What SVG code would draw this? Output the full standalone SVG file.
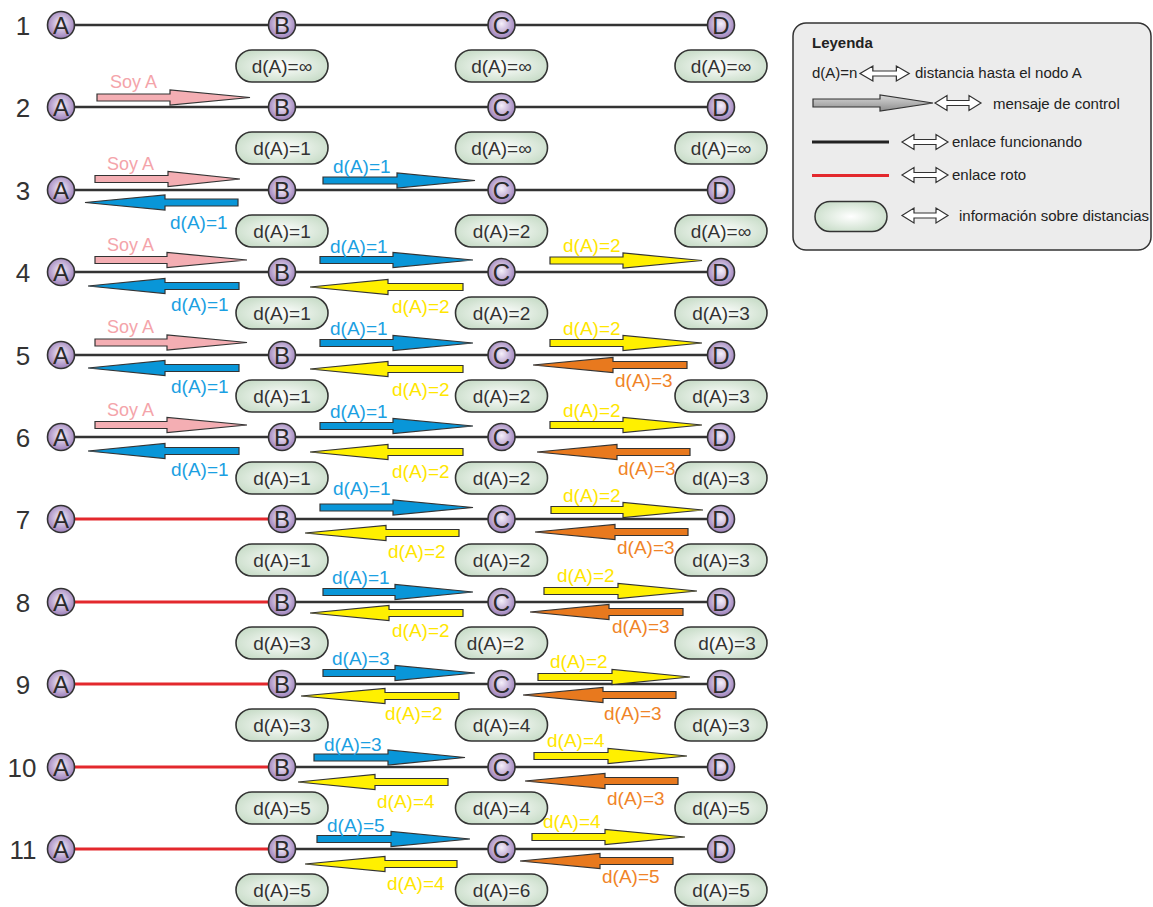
<svg xmlns="http://www.w3.org/2000/svg" xmlns:xlink="http://www.w3.org/1999/xlink" width="1153" height="907" viewBox="0 0 1153 907">
  <defs>
    <radialGradient id="gNode" cx="50%" cy="45%" r="55%">
      <stop offset="0" stop-color="#f6f0fa"/>
      <stop offset="1" stop-color="#9c7fba"/>
    </radialGradient>
    <radialGradient id="gDist" cx="50%" cy="50%" r="60%">
      <stop offset="0" stop-color="#ffffff"/>
      <stop offset="1" stop-color="#c6dbc6"/>
    </radialGradient>
    <linearGradient id="gGray" x1="0" y1="0" x2="0" y2="1">
      <stop offset="0" stop-color="#d8d8d8"/>
      <stop offset="1" stop-color="#8e8e8e"/>
    </linearGradient>
    <!-- hollow two-headed arrow used in the legend -->
    <path id="dbl" d="M0,0 L12,-7.5 V-2.5 H34 V-7.5 L46,0 L34,7.5 V2.5 H12 V7.5 Z"/>
    <style>
      text { font-family: "Liberation Sans", Arial, sans-serif; }
      .num { font-size: 26px; fill: #333; text-anchor: middle; }
      .node circle { fill: url(#gNode); stroke: #333; stroke-width: 1.6; }
      .node text { font-size: 24px; fill: #2a2a2a; text-anchor: middle; }
      .link { stroke: #333; stroke-width: 2.6; }
      .broken { stroke: #e3282d; stroke-width: 3; }
      .dist rect { fill: url(#gDist); stroke: #333; stroke-width: 1.6; }
      .dist text { font-size: 19px; fill: #333; text-anchor: middle; }
      .msg path { stroke: #333; stroke-width: 1.2; stroke-linejoin: miter; }
      .pink { fill: #f4aeb3; }
      .blue { fill: #0996d8; }
      .yel { fill: #fff000; }
      .ora { fill: #e8791e; }
      .lbl { font-size: 19px; }
      .tp { fill: #f4a4aa; }
      .tb { fill: #1ba0e2; }
      .ty { fill: #ffe600; }
      .to { fill: #f08428; }
      .leg text { font-size: 15px; fill: #222; }
      .leg use { fill: #fff; stroke: #333; stroke-width: 1.2; }
    </style>
  </defs>

  <rect width="1153" height="907" fill="#fff"/>

  <!-- step numbers -->
  <g id="steps">
    <text class="num" x="23" y="35">1</text>
    <text class="num" x="23" y="117">2</text>
    <text class="num" x="23" y="200">3</text>
    <text class="num" x="23" y="282">4</text>
    <text class="num" x="23" y="365">5</text>
    <text class="num" x="23" y="447">6</text>
    <text class="num" x="23" y="529">7</text>
    <text class="num" x="23" y="612">8</text>
    <text class="num" x="23" y="694">9</text>
    <text class="num" x="22" y="777">10</text>
    <text class="num" x="23" y="859">11</text>
  </g>

  <!-- links between nodes -->
  <g id="connectors">
    <line class="link" x1="61" y1="25" x2="721" y2="25"/>
    <line class="link" x1="61" y1="107" x2="721" y2="107"/>
    <line class="link" x1="61" y1="190" x2="721" y2="190"/>
    <line class="link" x1="61" y1="272" x2="721" y2="272"/>
    <line class="link" x1="61" y1="355" x2="721" y2="355"/>
    <line class="link" x1="61" y1="437" x2="721" y2="437"/>
    <line class="broken" x1="61" y1="519" x2="282" y2="519"/>
    <line class="link" x1="282" y1="519" x2="721" y2="519"/>
    <line class="broken" x1="61" y1="602" x2="282" y2="602"/>
    <line class="link" x1="282" y1="602" x2="721" y2="602"/>
    <line class="broken" x1="61" y1="684" x2="282" y2="684"/>
    <line class="link" x1="282" y1="684" x2="721" y2="684"/>
    <line class="broken" x1="61" y1="767" x2="282" y2="767"/>
    <line class="link" x1="282" y1="767" x2="721" y2="767"/>
    <line class="broken" x1="61" y1="849" x2="282" y2="849"/>
    <line class="link" x1="282" y1="849" x2="721" y2="849"/>
  </g>

  <!-- nodes -->
  <g id="n1A" class="node"><circle cx="61" cy="25" r="13.5"/><text x="61" y="33.5">A</text></g>
  <g id="n1B" class="node"><circle cx="282" cy="25" r="13.5"/><text x="282" y="33.5">B</text></g>
  <g id="n1C" class="node"><circle cx="501.5" cy="25" r="13.5"/><text x="501.5" y="33.5">C</text></g>
  <g id="n1D" class="node"><circle cx="721" cy="25" r="13.5"/><text x="721" y="33.5">D</text></g>

  <g id="n2A" class="node"><circle cx="61" cy="107" r="13.5"/><text x="61" y="115.5">A</text></g>
  <g id="n2B" class="node"><circle cx="282" cy="107" r="13.5"/><text x="282" y="115.5">B</text></g>
  <g id="n2C" class="node"><circle cx="501.5" cy="107" r="13.5"/><text x="501.5" y="115.5">C</text></g>
  <g id="n2D" class="node"><circle cx="721" cy="107" r="13.5"/><text x="721" y="115.5">D</text></g>

  <g id="n3A" class="node"><circle cx="61" cy="190" r="13.5"/><text x="61" y="198.5">A</text></g>
  <g id="n3B" class="node"><circle cx="282" cy="190" r="13.5"/><text x="282" y="198.5">B</text></g>
  <g id="n3C" class="node"><circle cx="501.5" cy="190" r="13.5"/><text x="501.5" y="198.5">C</text></g>
  <g id="n3D" class="node"><circle cx="721" cy="190" r="13.5"/><text x="721" y="198.5">D</text></g>

  <g id="n4A" class="node"><circle cx="61" cy="272" r="13.5"/><text x="61" y="280.5">A</text></g>
  <g id="n4B" class="node"><circle cx="282" cy="272" r="13.5"/><text x="282" y="280.5">B</text></g>
  <g id="n4C" class="node"><circle cx="501.5" cy="272" r="13.5"/><text x="501.5" y="280.5">C</text></g>
  <g id="n4D" class="node"><circle cx="721" cy="272" r="13.5"/><text x="721" y="280.5">D</text></g>

  <g id="n5A" class="node"><circle cx="61" cy="355" r="13.5"/><text x="61" y="363.5">A</text></g>
  <g id="n5B" class="node"><circle cx="282" cy="355" r="13.5"/><text x="282" y="363.5">B</text></g>
  <g id="n5C" class="node"><circle cx="501.5" cy="355" r="13.5"/><text x="501.5" y="363.5">C</text></g>
  <g id="n5D" class="node"><circle cx="721" cy="355" r="13.5"/><text x="721" y="363.5">D</text></g>

  <g id="n6A" class="node"><circle cx="61" cy="437" r="13.5"/><text x="61" y="445.5">A</text></g>
  <g id="n6B" class="node"><circle cx="282" cy="437" r="13.5"/><text x="282" y="445.5">B</text></g>
  <g id="n6C" class="node"><circle cx="501.5" cy="437" r="13.5"/><text x="501.5" y="445.5">C</text></g>
  <g id="n6D" class="node"><circle cx="721" cy="437" r="13.5"/><text x="721" y="445.5">D</text></g>

  <g id="n7A" class="node"><circle cx="61" cy="519" r="13.5"/><text x="61" y="527.5">A</text></g>
  <g id="n7B" class="node"><circle cx="282" cy="519" r="13.5"/><text x="282" y="527.5">B</text></g>
  <g id="n7C" class="node"><circle cx="501.5" cy="519" r="13.5"/><text x="501.5" y="527.5">C</text></g>
  <g id="n7D" class="node"><circle cx="721" cy="519" r="13.5"/><text x="721" y="527.5">D</text></g>

  <g id="n8A" class="node"><circle cx="61" cy="602" r="13.5"/><text x="61" y="610.5">A</text></g>
  <g id="n8B" class="node"><circle cx="282" cy="602" r="13.5"/><text x="282" y="610.5">B</text></g>
  <g id="n8C" class="node"><circle cx="501.5" cy="602" r="13.5"/><text x="501.5" y="610.5">C</text></g>
  <g id="n8D" class="node"><circle cx="721" cy="602" r="13.5"/><text x="721" y="610.5">D</text></g>

  <g id="n9A" class="node"><circle cx="61" cy="684" r="13.5"/><text x="61" y="692.5">A</text></g>
  <g id="n9B" class="node"><circle cx="282" cy="684" r="13.5"/><text x="282" y="692.5">B</text></g>
  <g id="n9C" class="node"><circle cx="501.5" cy="684" r="13.5"/><text x="501.5" y="692.5">C</text></g>
  <g id="n9D" class="node"><circle cx="721" cy="684" r="13.5"/><text x="721" y="692.5">D</text></g>

  <g id="n10A" class="node"><circle cx="61" cy="767" r="13.5"/><text x="61" y="775.5">A</text></g>
  <g id="n10B" class="node"><circle cx="282" cy="767" r="13.5"/><text x="282" y="775.5">B</text></g>
  <g id="n10C" class="node"><circle cx="501.5" cy="767" r="13.5"/><text x="501.5" y="775.5">C</text></g>
  <g id="n10D" class="node"><circle cx="721" cy="767" r="13.5"/><text x="721" y="775.5">D</text></g>

  <g id="n11A" class="node"><circle cx="61" cy="849" r="13.5"/><text x="61" y="857.5">A</text></g>
  <g id="n11B" class="node"><circle cx="282" cy="849" r="13.5"/><text x="282" y="857.5">B</text></g>
  <g id="n11C" class="node"><circle cx="501.5" cy="849" r="13.5"/><text x="501.5" y="857.5">C</text></g>
  <g id="n11D" class="node"><circle cx="721" cy="849" r="13.5"/><text x="721" y="857.5">D</text></g>

  <!-- distance tables kept by B, C and D -->
  <g id="dist" class="dist">
    <rect x="236" y="50" width="92" height="32" rx="16"/><text x="282" y="72.5">d(A)=∞</text>
    <rect x="455.5" y="50" width="92" height="32" rx="16"/><text x="501.5" y="72.5">d(A)=∞</text>
    <rect x="675" y="50" width="92" height="32" rx="16"/><text x="721" y="72.5">d(A)=∞</text>

    <rect x="236" y="132" width="92" height="32" rx="16"/><text x="282" y="154.5">d(A)=1</text>
    <rect x="455.5" y="132" width="92" height="32" rx="16"/><text x="501.5" y="154.5">d(A)=∞</text>
    <rect x="675" y="132" width="92" height="32" rx="16"/><text x="721" y="154.5">d(A)=∞</text>

    <rect x="236" y="215" width="92" height="32" rx="16"/><text x="282" y="237.5">d(A)=1</text>
    <rect x="455.5" y="215" width="92" height="32" rx="16"/><text x="501.5" y="237.5">d(A)=2</text>
    <rect x="675" y="215" width="92" height="32" rx="16"/><text x="721" y="237.5">d(A)=∞</text>

    <rect x="236" y="297" width="92" height="32" rx="16"/><text x="282" y="319.5">d(A)=1</text>
    <rect x="455.5" y="297" width="92" height="32" rx="16"/><text x="501.5" y="319.5">d(A)=2</text>
    <rect x="675" y="297" width="92" height="32" rx="16"/><text x="721" y="319.5">d(A)=3</text>

    <rect x="236" y="380" width="92" height="32" rx="16"/><text x="282" y="402.5">d(A)=1</text>
    <rect x="455.5" y="380" width="92" height="32" rx="16"/><text x="501.5" y="402.5">d(A)=2</text>
    <rect x="675" y="380" width="92" height="32" rx="16"/><text x="721" y="402.5">d(A)=3</text>

    <rect x="236" y="462" width="92" height="32" rx="16"/><text x="282" y="484.5">d(A)=1</text>
    <rect x="455.5" y="462" width="92" height="32" rx="16"/><text x="501.5" y="484.5">d(A)=2</text>
    <rect x="675" y="462" width="92" height="32" rx="16"/><text x="721" y="484.5">d(A)=3</text>

    <rect x="236" y="544" width="92" height="32" rx="16"/><text x="282" y="566.5">d(A)=1</text>
    <rect x="455.5" y="544" width="92" height="32" rx="16"/><text x="501.5" y="566.5">d(A)=2</text>
    <rect x="675" y="544" width="92" height="32" rx="16"/><text x="721" y="566.5">d(A)=3</text>

    <rect x="236" y="627" width="92" height="32" rx="16"/><text x="282" y="649.5">d(A)=3</text>
    <rect x="455.5" y="627" width="92" height="32" rx="16"/><text x="495.5" y="649.5">d(A)=2</text>
    <rect x="675" y="627" width="92" height="32" rx="16"/><text x="727" y="649.5">d(A)=3</text>

    <rect x="236" y="709" width="92" height="32" rx="16"/><text x="282" y="731.5">d(A)=3</text>
    <rect x="455.5" y="709" width="92" height="32" rx="16"/><text x="501.5" y="731.5">d(A)=4</text>
    <rect x="675" y="709" width="92" height="32" rx="16"/><text x="721" y="731.5">d(A)=3</text>

    <rect x="236" y="792" width="92" height="32" rx="16"/><text x="282" y="814.5">d(A)=5</text>
    <rect x="455.5" y="792" width="92" height="32" rx="16"/><text x="501.5" y="814.5">d(A)=4</text>
    <rect x="675" y="792" width="92" height="32" rx="16"/><text x="721" y="814.5">d(A)=5</text>

    <rect x="236" y="874" width="92" height="32" rx="16"/><text x="282" y="896.5">d(A)=5</text>
    <rect x="455.5" y="874" width="92" height="32" rx="16"/><text x="501.5" y="896.5">d(A)=6</text>
    <rect x="675" y="874" width="92" height="32" rx="16"/><text x="721" y="896.5">d(A)=5</text>
  </g>

  <!-- control messages -->
  <g id="messages" class="msg">
    <!-- step 2 -->
    <path class="pink" d="M97,94 h73 v-4 l80,7.5 l-80,7.5 v-4 h-73z"/>
    <!-- step 3 -->
    <path class="pink" d="M95,175.5 h73 v-4 l72,7.5 l-72,7.5 v-4 h-73z"/>
    <path class="blue" d="M238,199 h-73 v-4 l-80,7.5 l80,7.5 v-4 h73z"/>
    <path class="blue" d="M323,177 h74 v-4 l78,7.5 l-78,7.5 v-4 h-74z"/>
    <!-- step 4 -->
    <path class="pink" d="M95,256.5 h72 v-4 l80,7.5 l-80,7.5 v-4 h-72z"/>
    <path class="blue" d="M239,282.5 h-74 v-4 l-77,7.5 l77,7.5 v-4 h74z"/>
    <path class="blue" d="M320,256.5 h73 v-4 l80,7.5 l-80,7.5 v-4 h-73z"/>
    <path class="yel" d="M463,283.5 h-75 v-4 l-78,7.5 l78,7.5 v-4 h75z"/>
    <path class="yel" d="M550,257 h73 v-4 l79,7.5 l-79,7.5 v-4 h-73z"/>
    <!-- step 5 -->
    <path class="pink" d="M95,339 h72 v-4 l80,7.5 l-80,7.5 v-4 h-72z"/>
    <path class="blue" d="M239,364.5 h-74 v-4 l-77,7.5 l77,7.5 v-4 h74z"/>
    <path class="blue" d="M320,339.5 h73 v-4 l80,7.5 l-80,7.5 v-4 h-73z"/>
    <path class="yel" d="M463,365.5 h-75 v-4 l-78,7.5 l78,7.5 v-4 h75z"/>
    <path class="yel" d="M550,339.5 h73 v-4 l79,7.5 l-79,7.5 v-4 h-73z"/>
    <path class="ora" d="M687,361.5 h-74 v-4 l-80,7.5 l80,7.5 v-4 h74z"/>
    <!-- step 6 -->
    <path class="pink" d="M95,421.5 h72 v-4 l80,7.5 l-80,7.5 v-4 h-72z"/>
    <path class="blue" d="M239,447.5 h-74 v-4 l-77,7.5 l77,7.5 v-4 h74z"/>
    <path class="blue" d="M320,422.5 h73 v-4 l80,7.5 l-80,7.5 v-4 h-73z"/>
    <path class="yel" d="M463,448.5 h-75 v-4 l-78,7.5 l78,7.5 v-4 h75z"/>
    <path class="yel" d="M550,421.5 h73 v-4 l79,7.5 l-79,7.5 v-4 h-73z"/>
    <path class="ora" d="M690,448.5 h-73 v-4 l-80,7.5 l80,7.5 v-4 h73z"/>
    <!-- step 7 -->
    <path class="blue" d="M320,504 h73 v-4 l80,7.5 l-80,7.5 v-4 h-73z"/>
    <path class="yel" d="M459,529.5 h-73 v-4 l-81,7.5 l81,7.5 v-4 h73z"/>
    <path class="yel" d="M551,506.5 h72 v-4 l80,7.5 l-80,7.5 v-4 h-72z"/>
    <path class="ora" d="M688,528.5 h-73 v-4 l-80,7.5 l80,7.5 v-4 h73z"/>
    <!-- step 8 -->
    <path class="blue" d="M323,588.5 h72 v-4 l78,7.5 l-78,7.5 v-4 h-72z"/>
    <path class="yel" d="M463,609.5 h-74 v-4 l-79,7.5 l79,7.5 v-4 h74z"/>
    <path class="yel" d="M544,587.5 h74 v-4 l79,7.5 l-79,7.5 v-4 h-74z"/>
    <path class="ora" d="M683,608.5 h-74 v-4 l-79,7.5 l79,7.5 v-4 h74z"/>
    <!-- step 9 -->
    <path class="blue" d="M323,669.5 h72 v-4 l80,7.5 l-80,7.5 v-4 h-72z"/>
    <path class="yel" d="M459,692.5 h-74 v-4 l-84,7.5 l84,7.5 v-4 h74z"/>
    <path class="yel" d="M538,673.5 h74 v-4 l78,7.5 l-78,7.5 v-4 h-74z"/>
    <path class="ora" d="M676,691.5 h-73 v-4 l-80,7.5 l80,7.5 v-4 h73z"/>
    <!-- step 10 -->
    <path class="blue" d="M314,754 h74 v-4 l77,7.5 l-77,7.5 v-4 h-74z"/>
    <path class="yel" d="M448,778.5 h-73 v-4 l-77,7.5 l77,7.5 v-4 h73z"/>
    <path class="yel" d="M534,752.5 h74 v-4 l79,7.5 l-79,7.5 v-4 h-74z"/>
    <path class="ora" d="M678,777.5 h-73 v-4 l-80,7.5 l80,7.5 v-4 h73z"/>
    <!-- step 11 -->
    <path class="blue" d="M317,835.5 h74 v-4 l79,7.5 l-79,7.5 v-4 h-74z"/>
    <path class="yel" d="M457,860.5 h-72 v-4 l-80,7.5 l80,7.5 v-4 h72z"/>
    <path class="yel" d="M532,833.5 h73 v-4 l80,7.5 l-80,7.5 v-4 h-73z"/>
    <path class="ora" d="M673,857.5 h-73 v-4 l-80,7.5 l80,7.5 v-4 h73z"/>
  </g>

  <!-- message labels -->
  <g id="msg-labels" class="lbl">
    <text class="tp" x="110" y="88" font-size="18">Soy A</text>
    <text class="tp" x="107" y="170" font-size="18">Soy A</text>
    <text class="tp" x="107" y="251" font-size="18">Soy A</text>
    <text class="tp" x="107" y="333" font-size="18">Soy A</text>
    <text class="tp" x="107" y="416" font-size="18">Soy A</text>

    <text class="tb" x="170" y="229">d(A)=1</text>
    <text class="tb" x="171" y="311">d(A)=1</text>
    <text class="tb" x="171" y="393">d(A)=1</text>
    <text class="tb" x="171" y="476">d(A)=1</text>

    <text class="tb" x="333" y="173">d(A)=1</text>
    <text class="tb" x="330" y="253">d(A)=1</text>
    <text class="tb" x="330" y="335">d(A)=1</text>
    <text class="tb" x="330" y="418">d(A)=1</text>
    <text class="tb" x="333" y="495">d(A)=1</text>
    <text class="tb" x="332" y="584">d(A)=1</text>
    <text class="tb" x="332" y="665">d(A)=3</text>
    <text class="tb" x="324" y="751">d(A)=3</text>
    <text class="tb" x="327" y="832">d(A)=5</text>

    <text class="ty" x="392" y="313">d(A)=2</text>
    <text class="ty" x="392" y="396">d(A)=2</text>
    <text class="ty" x="392" y="478">d(A)=2</text>
    <text class="ty" x="388" y="558">d(A)=2</text>
    <text class="ty" x="392" y="637">d(A)=2</text>
    <text class="ty" x="385" y="720">d(A)=2</text>
    <text class="ty" x="377" y="808">d(A)=4</text>
    <text class="ty" x="387" y="890">d(A)=4</text>

    <text class="ty" x="563" y="252">d(A)=2</text>
    <text class="ty" x="563" y="335">d(A)=2</text>
    <text class="ty" x="563" y="417">d(A)=2</text>
    <text class="ty" x="563" y="502">d(A)=2</text>
    <text class="ty" x="557" y="582">d(A)=2</text>
    <text class="ty" x="550" y="668">d(A)=2</text>
    <text class="ty" x="547" y="747">d(A)=4</text>
    <text class="ty" x="543" y="828">d(A)=4</text>

    <text class="to" x="615" y="387">d(A)=3</text>
    <text class="to" x="618" y="475">d(A)=3</text>
    <text class="to" x="617" y="554">d(A)=3</text>
    <text class="to" x="612" y="633">d(A)=3</text>
    <text class="to" x="604" y="720">d(A)=3</text>
    <text class="to" x="607" y="805">d(A)=3</text>
    <text class="to" x="602" y="883">d(A)=5</text>
  </g>

  <!-- legend -->
  <g id="legend" class="leg">
    <rect x="793" y="23" width="358" height="227" rx="13" fill="#ececec" stroke="#333" stroke-width="1.5"/>
    <text x="812" y="48" font-weight="bold" font-size="13.5">Leyenda</text>

    <text x="812" y="78" font-size="14.3">d(A)=n</text>
    <use xlink:href="#dbl" transform="translate(860,73.5) scale(1.07,1)"/>
    <text x="915" y="78">distancia hasta el nodo A</text>

    <path d="M813,99 h67 v-4 l53,8 l-53,8 v-4 h-67z" fill="url(#gGray)" stroke="#333" stroke-width="1.2"/>
    <use xlink:href="#dbl" transform="translate(935,103)"/>
    <text x="993" y="108.5">mensaje de control</text>

    <line x1="812" y1="142" x2="889" y2="142" stroke="#222" stroke-width="3"/>
    <use xlink:href="#dbl" transform="translate(902,142)"/>
    <text x="952" y="147">enlace funcionando</text>

    <line x1="812" y1="175.5" x2="889" y2="175.5" stroke="#e3282d" stroke-width="3"/>
    <use xlink:href="#dbl" transform="translate(902,175)"/>
    <text x="952" y="180">enlace roto</text>

    <rect x="815" y="201.5" width="72" height="30" rx="15" fill="url(#gDist)" stroke="#333" stroke-width="1.5"/>
    <use xlink:href="#dbl" transform="translate(902,215.5)"/>
    <text x="959" y="220.5">información sobre distancias</text>
  </g>
</svg>
